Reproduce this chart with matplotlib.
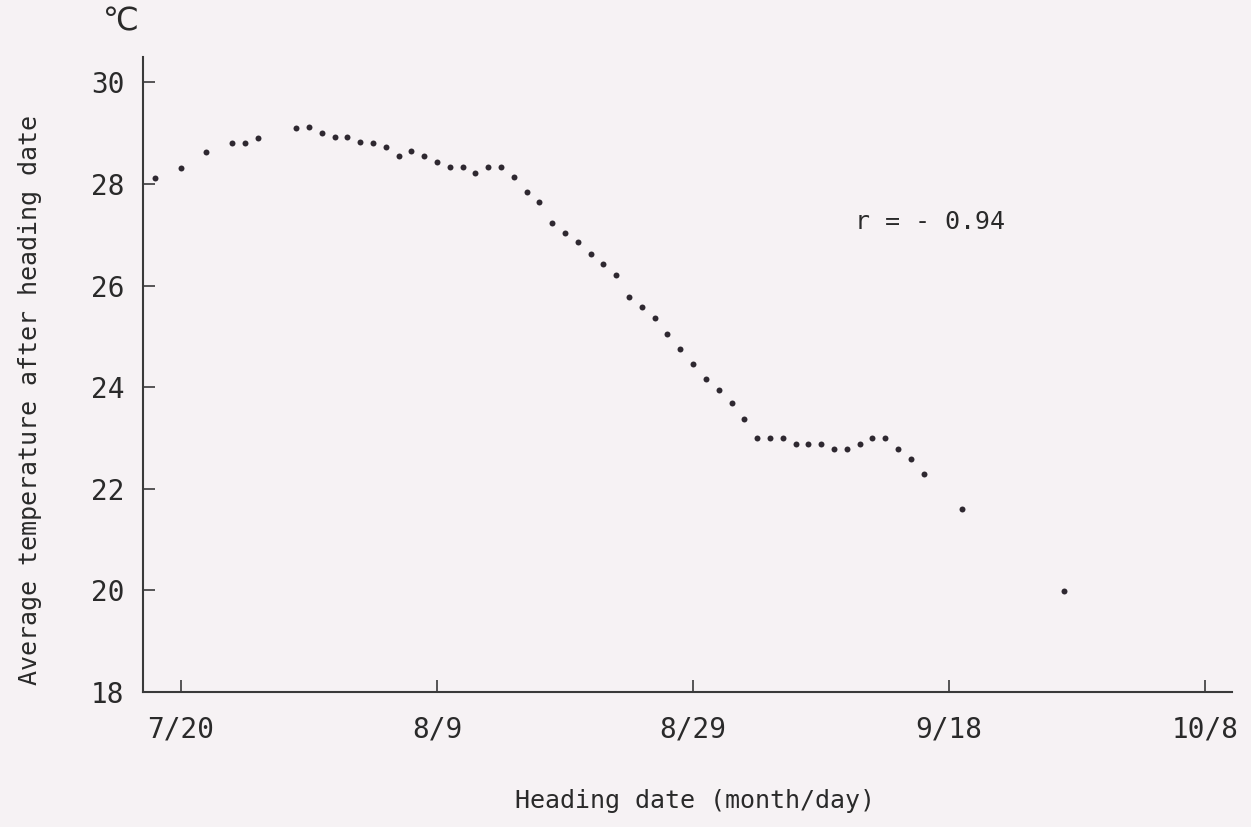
# Average temperature after heading date vs heading date
import pandas as pd
import matplotlib
matplotlib.use("Agg")
import matplotlib.pyplot as plt

# heading dates (month/day) and average temperature after heading (degC)
dates = ["7/18", "7/20", "7/22", "7/24", "7/25", "7/26", "7/29", "7/30", "7/31",
         "8/1", "8/2", "8/3", "8/4", "8/5", "8/6", "8/7", "8/8", "8/9", "8/10",
         "8/11", "8/12", "8/13", "8/14", "8/15", "8/16", "8/17", "8/18", "8/19",
         "8/20", "8/21", "8/22", "8/23", "8/24", "8/25", "8/26", "8/27", "8/28",
         "8/29", "8/30", "8/31", "9/1", "9/2", "9/3", "9/4", "9/5", "9/6", "9/7",
         "9/8", "9/9", "9/10", "9/11", "9/12", "9/13", "9/14", "9/15", "9/16",
         "9/19", "9/27"]
temps = [28.11, 28.31, 28.62, 28.81, 28.81, 28.91, 29.11, 29.13, 29.01,
         28.93, 28.93, 28.83, 28.81, 28.73, 28.54, 28.64, 28.54, 28.44, 28.33,
         28.33, 28.22, 28.33, 28.33, 28.14, 27.85, 27.65, 27.24, 27.04,
         26.85, 26.63, 26.43, 26.21, 25.78, 25.58, 25.37, 25.05, 24.75,
         24.46, 24.16, 23.95, 23.68, 23.38, 22.99, 22.99, 22.99, 22.89, 22.89,
         22.89, 22.79, 22.79, 22.89, 22.99, 22.99, 22.79, 22.59, 22.30,
         21.61, 19.98]
tick_dates = ["7/20", "8/9", "8/29", "9/18", "10/8"]
y_ticks = [18, 20, 22, 24, 26, 28, 30]
r_value = "r = - 0.94"

x = pd.to_datetime(["1990/" + d for d in dates])
xt = pd.to_datetime(["1990/" + d for d in tick_dates])

bg = "#f6f2f4"
ink = "#2e2830"
txt = "#2a2a2a"
mono = ["DejaVu Sans Mono"]

fig = plt.figure(figsize=(12.51, 8.27), dpi=100, facecolor=bg)
ax = fig.add_axes([0.1143, 0.1632, 0.8705, 0.768])
ax.set_facecolor(bg)

ax.plot(x, temps, "o", color=ink, markersize=4.3, markeredgewidth=0)

ax.set_xlim(pd.Timestamp("1990-07-17 01:00"), pd.Timestamp("1990-10-10 02:00"))
ax.set_ylim(18, 30.5)
ax.set_xticks(xt)
ax.set_xticklabels(tick_dates)
ax.set_yticks(y_ticks)

for s in ["top", "right"]:
    ax.spines[s].set_visible(False)
for s in ["left", "bottom"]:
    ax.spines[s].set_color("#3a3a3a")
    ax.spines[s].set_linewidth(1.5)

ax.tick_params(axis="both", direction="in", length=8.5, width=1.2, color="#3a3a3a",
               labelsize=20, labelcolor=txt)
ax.tick_params(axis="x", pad=17)
ax.tick_params(axis="y", pad=13.5)
for lab in ax.get_xticklabels() + ax.get_yticklabels():
    lab.set_family(mono)

ax.set_xlabel("Heading date (month/day)", fontsize=18, family=mono, color=txt)
ax.xaxis.set_label_coords(0.507, -0.152)
ax.set_ylabel("Average temperature after heading date", fontsize=18,
              family=mono, color=txt)
ax.yaxis.set_label_coords(-0.093, 0.46)

ax.text(pd.Timestamp("1990-09-10 16:00"), 27.25, r_value, fontsize=18,
        family=mono, color=txt, va="center")
fig.text(0.097, 0.973, "\u2103", fontsize=23, color=txt,
         ha="center", va="center")

fig.savefig("out.png", dpi=100, facecolor=bg)
